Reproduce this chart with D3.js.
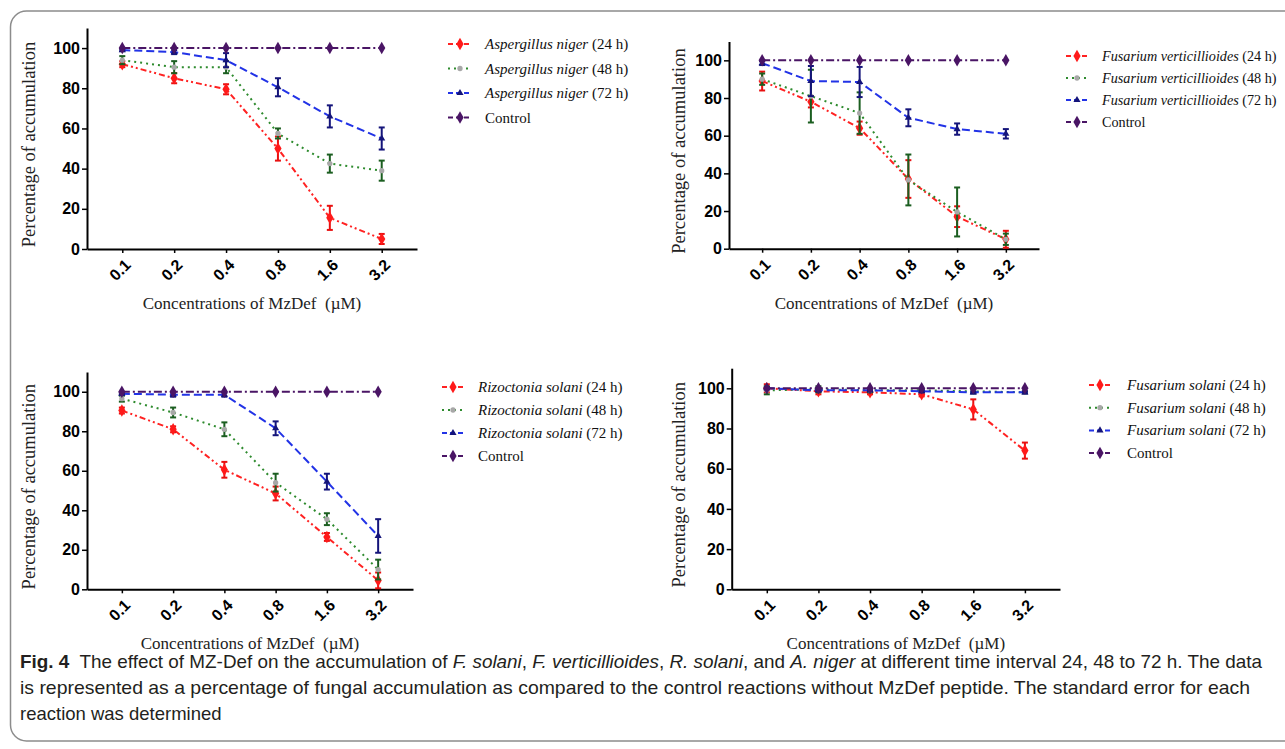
<!DOCTYPE html>
<html>
<head>
<meta charset="utf-8">
<script src="https://cdn.jsdelivr.net/npm/d3@7"></script>
<style>
  body { margin: 0; background: #fff; }
  svg { display: block; }
  .axis .domain { stroke: #000; stroke-width: 2px; }
  .axis .tick line { stroke: #000; stroke-width: 1.5px; }
  .axis .tick text { font-family: "Liberation Sans", Arial, sans-serif; font-weight: bold; font-size: 16px; fill: #000; }
  .axis-label { font-family: "Liberation Serif", "Times New Roman", serif; fill: #222; }
  .legend text { font-family: "Liberation Serif", "Times New Roman", serif; fill: #111; }
  .caption { font-family: "Liberation Sans Narrow", "Liberation Sans", sans-serif; font-size: 18.5px; fill: #231f20; }
</style>
</head>
<body>
<svg id="chart" width="1285" height="749"></svg>
<script>
// ---- data ----
const concentrations = ["0.1", "0.2", "0.4", "0.8", "1.6", "3.2"]
const yTicks = [0, 20, 40, 60, 80, 100]
const control = [100, 100, 100, 100, 100, 100]

// Aspergillus niger
const niger24 = [92, 85, 79.5, 50, 15.5, 5]
const niger24Err = [1.5, 2.5, 2.5, 6, 6, 2.5]
const niger48 = [94, 90.5, 90.5, 57.5, 42.5, 39]
const niger48Err = [2, 3, 3, 2.5, 4.5, 5]
const niger72 = [99, 98, 94, 80.5, 66, 55]
const niger72Err = [0.5, 1, 3.5, 4.5, 5.5, 5.5]

// Fusarium verticillioides
const vert24 = [89, 78, 64, 37, 17, 5]
const vert24Err = [5, 3, 3.5, 10, 5.5, 4.5]
const vert48 = [90, 81, 72, 36.5, 19.5, 5]
const vert48Err = [3, 14, 11, 13.5, 13, 3]
const vert72 = [98.5, 89, 88.5, 69.5, 63.5, 61]
const vert72Err = [1, 8, 8, 4.5, 3, 2.5]

// Rizoctonia solani
const riz24 = [90.5, 81, 60.5, 48.5, 26.5, 4.5]
const riz24Err = [1.5, 1.5, 4, 3.5, 2, 4]
const riz48 = [96.5, 89.5, 81, 54, 35.5, 10]
const riz48Err = [1.5, 2.5, 3.5, 4.5, 3, 5]
const riz72 = [99, 98.5, 98.5, 81.5, 54.5, 27]
const riz72Err = [0.5, 1, 1, 3.5, 4, 8.5]

// Fusarium solani
const sol24 = [100, 98.5, 98, 97, 89.5, 69]
const sol24Err = [2, 1.5, 1, 1, 5, 4]
const sol48 = [99, 99.5, 99, 99, 98.5, 98]
const sol48Err = [2, 1.5, 1, 0.5, 1, 0.5]
const sol72 = [100, 99, 99, 98.5, 98, 98]
const sol72Err = [0.5, 0.5, 0.5, 0.5, 0.5, 0.5]

// ---- styles per series ----
const styles = [
  { line: "#ff2222", dash: "6,3,2,3,2,3", err: "#e81010", mark: d3.symbolDiamond, size: 45, fill: "#ff1a1a" },
  { line: "#2e8b2e", dash: "2,4", err: "#1b5e20", mark: d3.symbolCircle, size: 22, fill: "#a8a8a8" },
  { line: "#2233e6", dash: "8,4", err: "#14147a", mark: d3.symbolTriangle, size: 22, fill: "#14147a" },
  { line: "#4a1565", dash: "8,3,2,3", err: null, mark: d3.symbolDiamond, size: 45, fill: "#4a1565" }
]

const panels = [
  { species: "Aspergillus niger", series: [[niger24, niger24Err], [niger48, niger48Err], [niger72, niger72Err], [control, null]],
    left: 87, right: 417, top: 28, bottom: 249, labelX: 35,
    legend: { x: 448, w: 24, tx: 485, y: 44, dy: 24.5, fs: 15 } },
  { species: "Fusarium verticillioides", series: [[vert24, vert24Err], [vert48, vert48Err], [vert72, vert72Err], [control, null]],
    left: 729, right: 1039, top: 41.5, bottom: 248.7, labelX: 685,
    legend: { x: 1066, w: 22, tx: 1102, y: 56, dy: 22, fs: 14.2 } },
  { species: "Rizoctonia solani", series: [[riz24, riz24Err], [riz48, riz48Err], [riz72, riz72Err], [control, null]],
    left: 87, right: 413, top: 372, bottom: 589.3, labelX: 35,
    legend: { x: 442, w: 22, tx: 478, y: 387, dy: 23, fs: 15 } },
  { species: "Fusarium solani", series: [[sol24, sol24Err], [sol48, sol48Err], [sol72, sol72Err], [control, null]],
    left: 731.7, right: 1060, top: 368.2, bottom: 589.3, labelX: 685,
    legend: { x: 1089, w: 22, tx: 1127, y: 385, dy: 22.7, fs: 15 } }
]
const legendTimes = ["(24 h)", "(48 h)", "(72 h)"]

const svg = d3.select("#chart")

// frame
svg.append("rect")
  .attr("x", 10.5).attr("y", 11)
  .attr("width", 1400).attr("height", 730)
  .attr("rx", 16)
  .attr("fill", "none")
  .attr("stroke", "#8c8c8c")
  .attr("stroke-width", 1.5)

panels.forEach(p => {
  const g = svg.append("g")

  const x = d3.scalePoint().domain(concentrations).range([p.left, p.right]).padding(0.68)
  const y = d3.scaleLinear().domain([0, 110]).range([p.bottom, p.top])

  // y axis
  g.append("g")
    .attr("class", "axis")
    .attr("transform", "translate(" + p.left + ",0)")
    .call(d3.axisLeft(y).tickValues(yTicks).tickSize(5).tickSizeOuter(0).tickPadding(2))

  // x axis
  const xa = g.append("g")
    .attr("class", "axis")
    .attr("transform", "translate(0," + p.bottom + ")")
    .call(d3.axisBottom(x).tickSize(4).tickSizeOuter(0))
  xa.selectAll(".tick text")
    .attr("x", 0).attr("y", 0).attr("dy", "0.35em")
    .attr("text-anchor", "end")
    .attr("transform", "translate(5,13) rotate(-45)")

  // axis labels
  g.append("text")
    .attr("class", "axis-label")
    .attr("x", (p.left + p.right) / 2)
    .attr("y", p.bottom + 60)
    .attr("text-anchor", "middle")
    .style("font-size", "17px")
    .text("Concentrations of MzDef\u00a0 (\u00b5M)")

  g.append("text")
    .attr("class", "axis-label")
    .attr("transform", "translate(" + p.labelX + "," + ((p.top + p.bottom) / 2 + 6) + ") rotate(-90)")
    .attr("text-anchor", "middle")
    .style("font-size", "18.5px")
    .text("Percentage of accumulation")

  const line = d3.line()
    .x(d => x(d.c))
    .y(d => y(d.v))

  p.series.forEach(([vals, errs], i) => {
    const st = styles[i]
    const data = vals.map((v, j) => ({ c: concentrations[j], v: v, e: errs ? errs[j] : 0 }))

    g.append("path")
      .datum(data)
      .attr("fill", "none")
      .attr("stroke", st.line)
      .attr("stroke-width", 2)
      .attr("stroke-dasharray", st.dash)
      .attr("d", line)

    if (errs) {
      const eb = g.append("g").attr("stroke", st.err).attr("stroke-width", 2)
      eb.selectAll(".v").data(data).enter().append("line")
        .attr("x1", d => x(d.c)).attr("x2", d => x(d.c))
        .attr("y1", d => y(d.v - d.e)).attr("y2", d => y(d.v + d.e))
      eb.selectAll(".ct").data(data).enter().append("line")
        .attr("x1", d => x(d.c) - 3).attr("x2", d => x(d.c) + 3)
        .attr("y1", d => y(d.v + d.e)).attr("y2", d => y(d.v + d.e))
      eb.selectAll(".cb").data(data).enter().append("line")
        .attr("x1", d => x(d.c) - 3).attr("x2", d => x(d.c) + 3)
        .attr("y1", d => y(d.v - d.e)).attr("y2", d => y(d.v - d.e))
    }

    g.selectAll(".m" + i).data(data).enter().append("path")
      .attr("transform", d => "translate(" + x(d.c) + "," + y(d.v) + ")")
      .attr("d", d3.symbol().type(st.mark).size(st.size))
      .attr("fill", st.fill)
  })

  // legend
  const lg = g.append("g").attr("class", "legend")
  styles.forEach((st, i) => {
    const ly = p.legend.y + i * p.legend.dy
    lg.append("line")
      .attr("x1", p.legend.x).attr("x2", p.legend.x + p.legend.w)
      .attr("y1", ly).attr("y2", ly)
      .attr("stroke", st.line).attr("stroke-width", 2)
      .attr("stroke-dasharray", i === 1 ? "2,4" : "5,3")
    lg.append("path")
      .attr("transform", "translate(" + (p.legend.x + p.legend.w / 2) + "," + ly + ")")
      .attr("d", d3.symbol().type(st.mark).size(st.size))
      .attr("fill", st.fill)
    const t = lg.append("text").attr("x", p.legend.tx).attr("y", ly + 5)
      .style("font-size", p.legend.fs + "px")
    if (i < 3) {
      t.append("tspan").style("font-style", "italic").text(p.species)
      t.append("tspan").text(" " + legendTimes[i])
    } else {
      t.text("Control")
    }
  })
})

// caption
const cap1 = svg.append("text").attr("class", "caption").attr("x", 20).attr("y", 668)
  .attr("textLength", 1242).attr("lengthAdjust", "spacingAndGlyphs")
cap1.append("tspan").style("font-weight", "bold").text("Fig. 4")
cap1.append("tspan").text("\u00a0 The effect of MZ-Def on the accumulation of ")
cap1.append("tspan").style("font-style", "italic").text("F. solani")
cap1.append("tspan").text(", ")
cap1.append("tspan").style("font-style", "italic").text("F. verticillioides")
cap1.append("tspan").text(", ")
cap1.append("tspan").style("font-style", "italic").text("R. solani")
cap1.append("tspan").text(", and ")
cap1.append("tspan").style("font-style", "italic").text("A. niger")
cap1.append("tspan").text(" at different time interval 24, 48 to 72 h. The data")

svg.append("text").attr("class", "caption").attr("x", 20).attr("y", 694)
  .attr("textLength", 1230).attr("lengthAdjust", "spacingAndGlyphs")
  .text("is represented as a percentage of fungal accumulation as compared to the control reactions without MzDef peptide. The standard error for each")

svg.append("text").attr("class", "caption").attr("x", 20).attr("y", 720)
  .text("reaction was determined")
</script>
</body>
</html>
